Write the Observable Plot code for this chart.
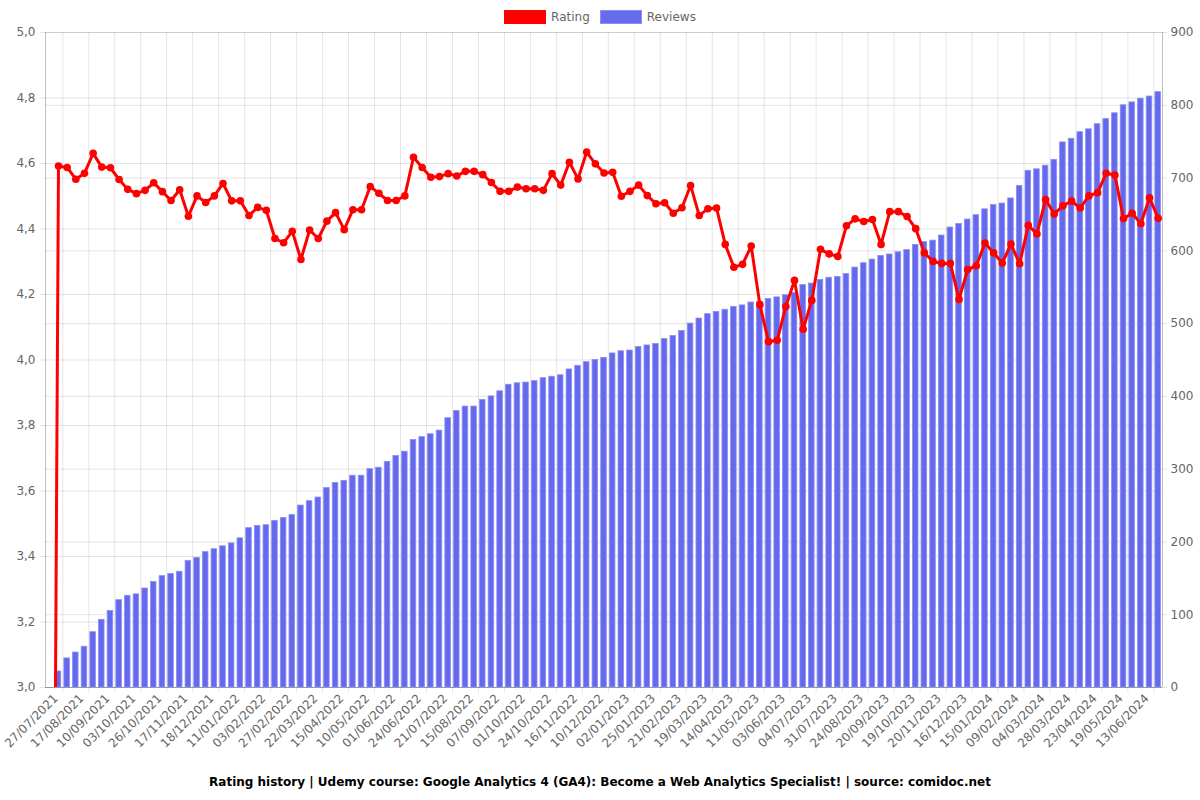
<!DOCTYPE html>
<html>
<head>
<meta charset="utf-8">
<script src="https://cdn.jsdelivr.net/npm/d3@7"></script>
<script src="https://cdn.jsdelivr.net/npm/@observablehq/plot@0.6"></script>
<style>
  html, body { margin: 0; padding: 0; background: #fff; }
  body { width: 1200px; font-family: "DejaVu Sans", sans-serif; }
  #legend { position: relative; height: 24px; }
  #legend .items { position: absolute; top: 10px; left: 0; right: 0; display: flex; justify-content: center; gap: 10px; font-size: 12px; color: #666; line-height: 14px; }
  #legend .item { display: flex; align-items: center; gap: 5px; }
  #legend .box { width: 40px; height: 12px; border: 1px solid; }
  #caption { height: 24px; line-height: 24px; text-align: center; font-weight: bold; font-size: 12px; color: #000; }
  #chart svg { display: block; overflow: visible; }
</style>
</head>
<body>
<div id="legend"><div class="items">
  <div class="item"><div class="box" style="background:#ff0000;border-color:#ff0000"></div><span>Rating</span></div>
  <div class="item"><div class="box" style="background:#676bee;border-color:#8b8ef2"></div><span>Reviews</span></div>
</div></div>
<div id="chart"></div>
<div id="caption">Rating history | Udemy course: Google Analytics 4 (GA4): Become a Web Analytics Specialist! | source: comidoc.net</div>
<script>
// Tick labels shown on the x axis (every third data point)
const tickLabels = [
  "27/07/2021","17/08/2021","10/09/2021","03/10/2021","26/10/2021","17/11/2021","18/12/2021",
  "11/01/2022","03/02/2022","27/02/2022","22/03/2022","15/04/2022","10/05/2022","01/06/2022","24/06/2022",
  "21/07/2022","15/08/2022","07/09/2022","01/10/2022","24/10/2022","16/11/2022","10/12/2022",
  "02/01/2023","25/01/2023","21/02/2023","19/03/2023","14/04/2023","11/05/2023","03/06/2023","04/07/2023",
  "31/07/2023","24/08/2023","20/09/2023","19/10/2023","20/11/2023","16/12/2023",
  "15/01/2024","09/02/2024","04/03/2024","28/03/2024","23/04/2024","19/05/2024","13/06/2024"
];

// Average rating per data point
const ratings = [
  0,
  4.592,4.588,4.552,4.570,4.631,4.589,4.587,4.551,4.521,4.508,4.518,4.541,4.514,4.487,4.520,4.439,4.501,4.481,4.501,4.539,
  4.486,4.486,4.441,4.466,4.457,4.371,4.358,4.393,4.307,4.397,4.371,4.424,4.450,
  4.398,4.459,4.459,4.530,4.509,4.487,4.487,4.501,4.619,4.588,4.558,4.560,4.569,4.562,4.576,4.576,4.566,4.542,4.515,4.515,
  4.528,4.523,4.523,4.518,4.569,4.534,4.604,4.553,4.635,4.599,4.571,4.573,4.500,4.515,4.534,
  4.502,4.477,4.480,4.448,4.465,4.533,4.441,4.462,4.464,4.353,4.283,4.292,4.348,4.169,4.056,4.060,4.163,4.243,4.094,4.182,
  4.338,4.324,4.316,4.410,4.431,4.423,4.429,4.353,4.453,4.453,
  4.438,4.401,4.327,4.301,4.295,4.295,4.185,4.276,4.288,4.357,4.327,4.296,4.354,4.294,4.411,4.385,4.490,4.446,4.471,4.485,
  4.464,4.501,4.511,4.570,4.565,4.432,4.448,4.416,4.495,4.433
];

// Cumulative number of reviews per data point
const reviews = [
  0,
  22,40,48,56,76,93,105,120,126,128,136,145,153,156,159,174,178,186,190,194,198,205,219,222,223,229,233,237,250,256,
  261,274,281,284,291,291,300,302,310,318,324,340,344,348,353,370,380,386,386,395,400,407,416,418,419,421,425,427,429,
  437,442,447,450,453,459,462,463,468,470,472,479,483,490,500,507,513,516,519,523,525,529,530,534,536,539,542,553,555,
  560,563,564,568,577,583,588,593,595,598,601,608,612,614,621,632,637,643,649,657,663,
  665,672,689,710,712,717,725,749,754,763,767,774,781,789,800,804,809,812,818
];

const ratingTicks = [3.0, 3.2, 3.4, 3.6, 3.8, 4.0, 4.2, 4.4, 4.6, 4.8, 5.0];
const reviewTicks = [0, 100, 200, 300, 400, 500, 600, 700, 800, 900];

// Map reviews (0..900) onto the rating axis (3..5) for the shared y scale
const rMin = 3, rMax = 5, vMax = 900;
const toY = v => rMin + (v / vMax) * (rMax - rMin);
const fromY = y => Math.round((y - rMin) / (rMax - rMin) * vMax);

const data = ratings.map((r, i) => ({i, rating: r, reviews: reviews[i]}));
const n = data.length;
const labelPos = tickLabels.map((_, k) => k * 3);
const vGrid = tickLabels.map((_, k) => k * 3 + 1.5);
const grid = "rgba(0,0,0,0.1)";

const chart = Plot.plot({
  width: 1200,
  height: 746,
  marginLeft: 45,
  marginRight: 38,
  marginTop: 8,
  marginBottom: 83,
  style: {fontFamily: "DejaVu Sans, sans-serif", fontSize: "12px", color: "#666", background: "#fff"},
  x: {type: "linear", domain: [-0.5, n - 0.5]},
  y: {domain: [rMin, rMax]},
  marks: [
    Plot.ruleX(vGrid, {x: d => d, stroke: grid, insetBottom: -6}),
    Plot.ruleY(ratingTicks, {y: d => d, stroke: grid, insetLeft: -5}),
    Plot.ruleY(reviewTicks, {y: d => toY(d), stroke: grid, insetRight: -5}),
    Plot.ruleX([-0.5], {x: d => d, stroke: "rgba(0,0,0,0.25)"}),
    Plot.ruleX([n - 0.5], {x: d => d, stroke: "rgba(0,0,0,0.25)"}),
    Plot.ruleY([rMin], {y: d => d, stroke: "rgba(0,0,0,0.25)"}),
    Plot.rect(data, {
      x1: d => d.i - 0.32, x2: d => d.i + 0.32,
      y1: rMin, y2: d => toY(d.reviews),
      fill: "#6569ee", stroke: "#8b8ef2", strokeWidth: 0.8
    }),
    Plot.line(data, {x: "i", y: "rating", stroke: "#ff0000", strokeWidth: 3, strokeLinejoin: "round", clip: true}),
    Plot.dot(data, {x: "i", y: "rating", r: 3.8, fill: "#ff0000", stroke: "none", clip: true}),
    Plot.axisY(ratingTicks, {anchor: "left", tickSize: 0, tickPadding: 10, tickFormat: d => d.toFixed(1).replace(".", ","), fill: "#666", label: null}),
    Plot.axisY(reviewTicks.map(toY), {anchor: "right", tickSize: 0, tickPadding: 8, tickFormat: fromY, fill: "#666", label: null, textAnchor: "start"}),
    Plot.axisX(labelPos, {anchor: "bottom", tickSize: 0, tickPadding: 9, dx: 6, tickRotate: -45, tickFormat: i => tickLabels[i / 3], fill: "#666", label: null})
  ]
});
document.getElementById("chart").appendChild(chart);
</script>
</body>
</html>
